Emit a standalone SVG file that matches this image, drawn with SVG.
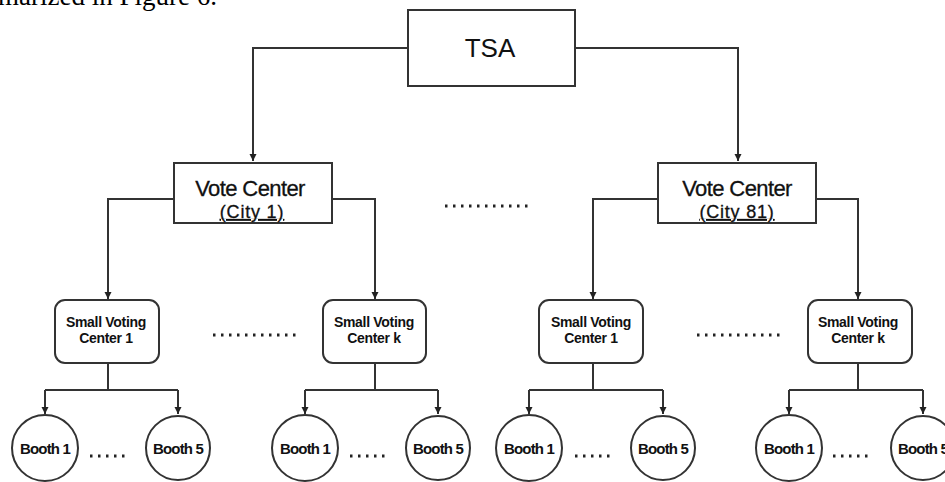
<svg xmlns="http://www.w3.org/2000/svg" width="945" height="482" viewBox="0 0 945 482">
<defs>
<marker id="ah" markerWidth="8" markerHeight="8" refX="7" refY="4" orient="auto" markerUnits="userSpaceOnUse">
<path d="M0,0.5 L7,4 L0,7.5 Z" fill="#222"/>
</marker>
<style>
.box{fill:#fff;stroke:#333;stroke-width:2}
.ln{fill:none;stroke:#333;stroke-width:2}
.t{font-family:"Liberation Sans",Arial,sans-serif;fill:#111;text-anchor:middle}
.s{font-size:14px;font-weight:bold;letter-spacing:-0.3px}
.b{font-size:15px;font-weight:bold;letter-spacing:-0.8px}
.v{font-size:22px;letter-spacing:-0.6px;stroke:#111;stroke-width:0.3}
.c{font-size:18px;letter-spacing:0.8px;stroke:#111;stroke-width:0.3;text-decoration:underline}
.dots{fill:none;stroke:#222;stroke-width:3;stroke-dasharray:2.5 5.5}
</style>
</defs>
<rect width="945" height="482" fill="#fff"/>
<text x="217" y="5" font-family="'Liberation Serif','Times New Roman',serif" font-size="27" text-anchor="end" fill="#000">marized in Figure 6.</text>

<g id="connectors">
<path class="ln" d="M408,48 H253 V161" marker-end="url(#ah)"/>
<path class="ln" d="M575,48 H738 V161" marker-end="url(#ah)"/>
<path class="ln" d="M174,199 H108 V299" marker-end="url(#ah)"/>
<path class="ln" d="M332,199 H375 V299" marker-end="url(#ah)"/>
<path class="ln" d="M658,199 H593 V299" marker-end="url(#ah)"/>
<path class="ln" d="M816,199 H858 V299" marker-end="url(#ah)"/>
<path class="ln" d="M108,363 V390 M45,390 H178"/>
<path class="ln" d="M45,390 V414" marker-end="url(#ah)"/>
<path class="ln" d="M178,390 V414" marker-end="url(#ah)"/>
<path class="ln" d="M375,363 V390 M305,390 H438"/>
<path class="ln" d="M305,390 V414" marker-end="url(#ah)"/>
<path class="ln" d="M438,390 V414" marker-end="url(#ah)"/>
<path class="ln" d="M593,363 V390 M529,390 H663"/>
<path class="ln" d="M529,390 V414" marker-end="url(#ah)"/>
<path class="ln" d="M663,390 V414" marker-end="url(#ah)"/>
<path class="ln" d="M858,363 V390 M789,390 H923"/>
<path class="ln" d="M789,390 V414" marker-end="url(#ah)"/>
<path class="ln" d="M923,390 V414" marker-end="url(#ah)"/>
</g>

<g id="ellipses">
<path class="dots" d="M445,206 H530"/>
<path class="dots" d="M213,335 H300"/>
<path class="dots" d="M697,335 H784"/>
<path class="dots" d="M90,456 H129"/>
<path class="dots" d="M350,456 H389"/>
<path class="dots" d="M575,456 H614"/>
<path class="dots" d="M833,456 H872"/>
</g>

<g id="tsa">
<rect class="box" x="408" y="10" width="167" height="76"/>
<text class="t" x="490" y="57" font-size="26">TSA</text>
</g>

<g id="vc1">
<rect class="box" x="174" y="163" width="158" height="60"/>
<text class="t v" x="250" y="196">Vote Center</text>
<text class="t c" x="252" y="218">(City 1)</text>
</g>

<g id="vc81">
<rect class="box" x="658" y="163" width="158" height="60"/>
<text class="t v" x="737" y="196">Vote Center</text>
<text class="t c" x="737" y="218">(City 81)</text>
</g>

<g id="svc1a">
<rect class="box" x="55" y="300" width="104" height="63" rx="10"/>
<text class="t s" x="106" y="327">Small Voting</text>
<text class="t s" x="106" y="343">Center 1</text>
</g>
<g id="svcka">
<rect class="box" x="323" y="300" width="103" height="63" rx="10"/>
<text class="t s" x="374" y="327">Small Voting</text>
<text class="t s" x="374" y="343">Center  k</text>
</g>
<g id="svc1b">
<rect class="box" x="539" y="300" width="104" height="63" rx="10"/>
<text class="t s" x="591" y="327">Small Voting</text>
<text class="t s" x="591" y="343">Center 1</text>
</g>
<g id="svckb">
<rect class="box" x="808" y="300" width="104" height="63" rx="10"/>
<text class="t s" x="858" y="327">Small Voting</text>
<text class="t s" x="858" y="343">Center  k</text>
</g>

<g id="booth-a1"><circle class="box" cx="45" cy="448" r="33"/><text class="t b" x="45" y="454">Booth 1</text></g>
<g id="booth-a5"><circle class="box" cx="178" cy="448" r="32"/><text class="t b" x="178" y="454">Booth 5</text></g>
<g id="booth-b1"><circle class="box" cx="305" cy="448" r="33"/><text class="t b" x="305" y="454">Booth 1</text></g>
<g id="booth-b5"><circle class="box" cx="438" cy="448" r="32"/><text class="t b" x="438" y="454">Booth 5</text></g>
<g id="booth-c1"><circle class="box" cx="529" cy="448" r="33"/><text class="t b" x="529" y="454">Booth 1</text></g>
<g id="booth-c5"><circle class="box" cx="663" cy="448" r="32"/><text class="t b" x="663" y="454">Booth 5</text></g>
<g id="booth-d1"><circle class="box" cx="789" cy="448" r="33"/><text class="t b" x="789" y="454">Booth 1</text></g>
<g id="booth-d5"><circle class="box" cx="923" cy="448" r="32"/><text class="t b" x="923" y="454">Booth 5</text></g>
</svg>
